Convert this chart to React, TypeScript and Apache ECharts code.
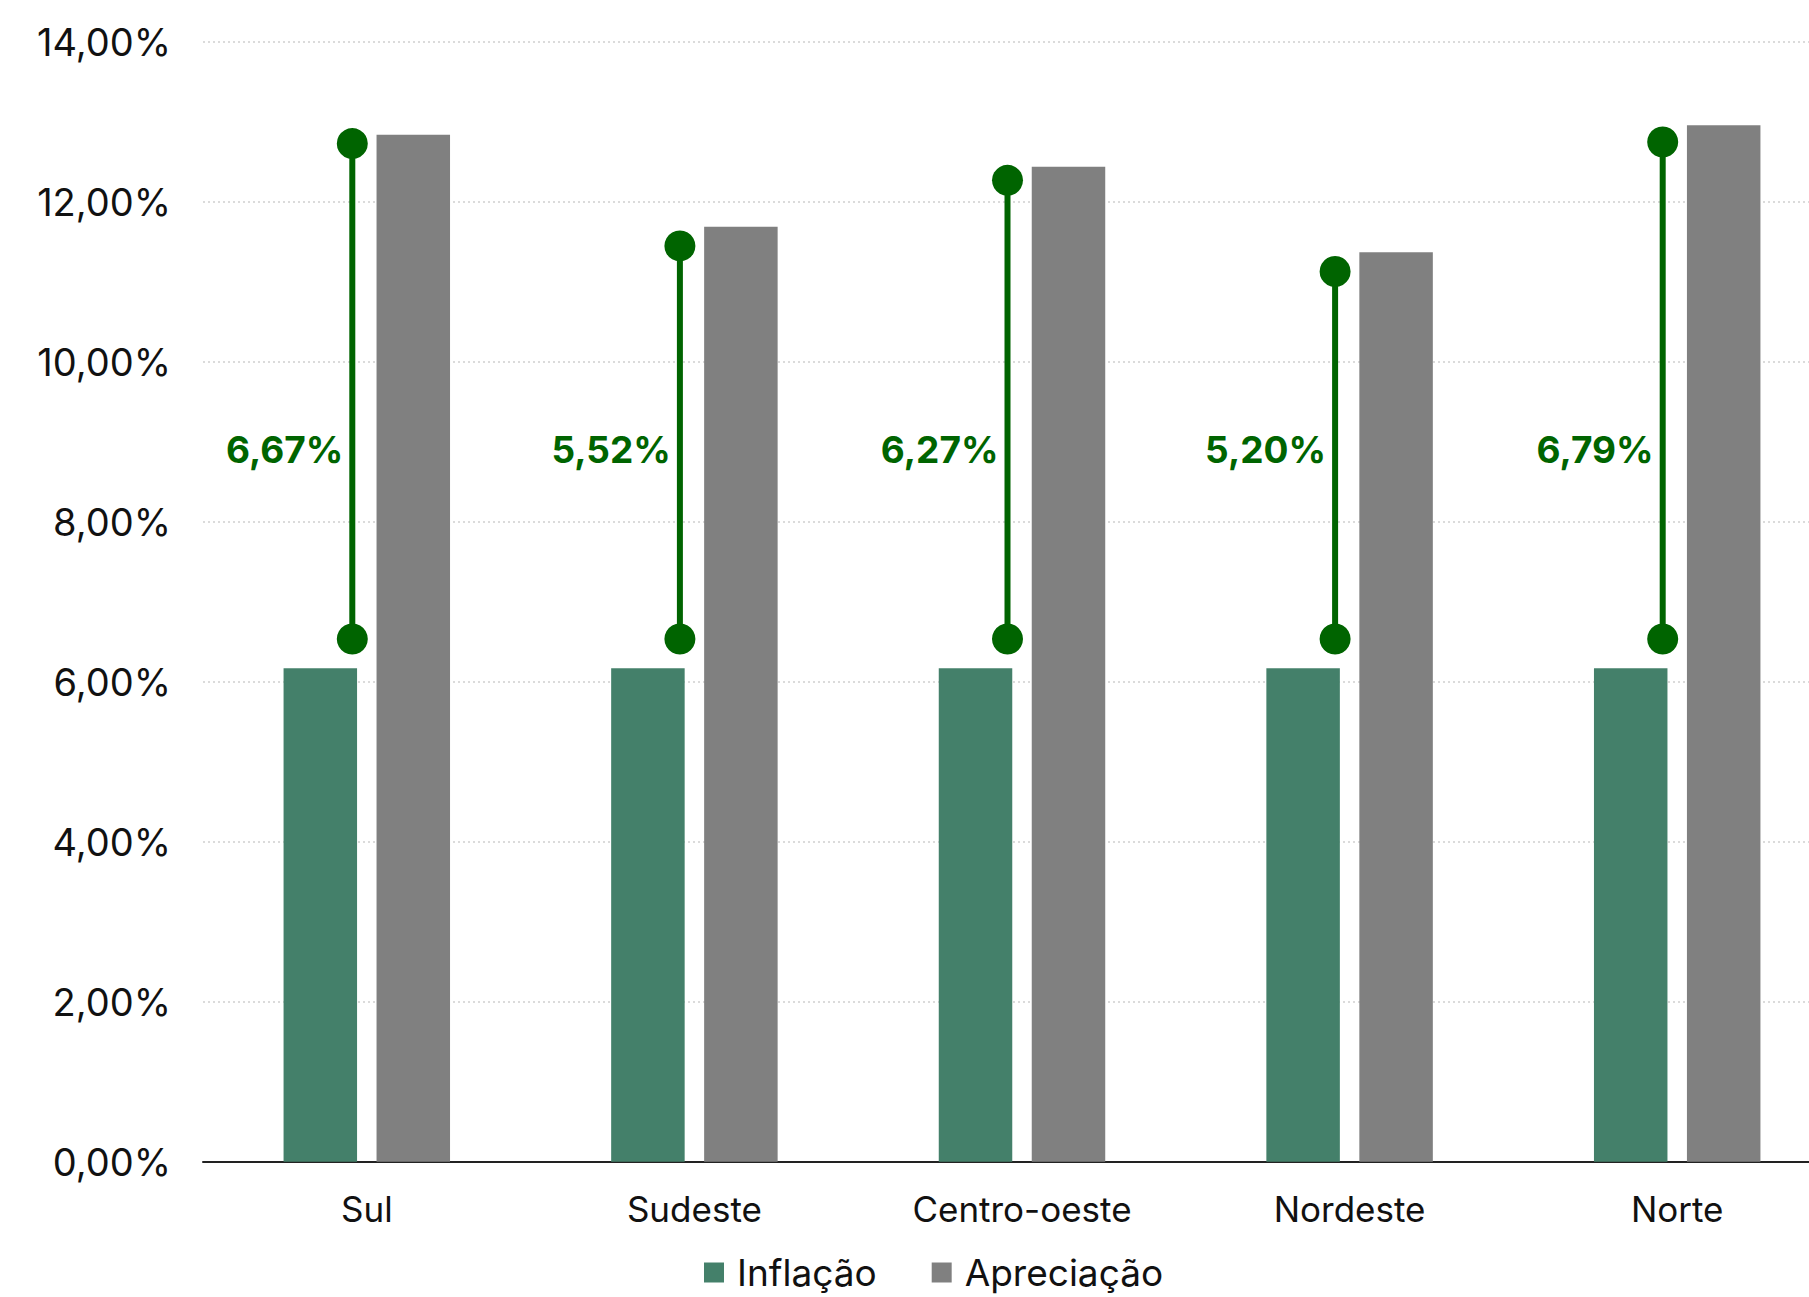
import React, { useEffect, useRef } from "react";
import * as echarts from "echarts";

const categories = ["Sul", "Sudeste", "Centro-oeste", "Nordeste", "Norte"];
const inflacao = [6.17, 6.17, 6.17, 6.17, 6.17];
const apreciacao = [12.84, 11.69, 12.44, 11.37, 12.96];
const diferenca = [6.67, 5.52, 6.27, 5.2, 6.79];
const dumbbellLow = [6.535, 6.535, 6.535, 6.535, 6.535];
const dumbbellHigh = [12.73, 11.45, 12.27, 11.13, 12.75];
const yTicks = [0, 2, 4, 6, 8, 10, 12, 14];

const fmt = (v: number) => v.toFixed(2).replace(".", ",") + "%";

export default function App() {
  const ref = useRef<HTMLDivElement>(null);
  useEffect(() => {
    if (!ref.current) return;
    const chart = echarts.init(ref.current, null, { renderer: "svg" });
    const GREEN = "#006400";
    const option: any = {
      animation: false,
      backgroundColor: "#ffffff",
      grid: { left: 203, right: 0, top: 42, bottom: 135.3, containLabel: false },
      legend: {
        data: ["Inflação", "Apreciação"],
        left: 699,
        top: 1249,
        padding: 5,
        icon: "rect",
        itemWidth: 20,
        itemHeight: 20,
        itemGap: 55,
        textStyle: {
          fontFamily: "Inter",
          fontSize: 37,
          lineHeight: 36,
          color: "#111",
          padding: [0, 0, 0, 8],
        },
      },
      xAxis: {
        type: "category",
        data: categories,
        axisTick: { show: false },
        axisLine: { show: true, lineStyle: { color: "#222", width: 2 } },
        axisLabel: {
          fontFamily: "Inter",
          fontSize: 35,
          lineHeight: 35,
          color: "#111",
          margin: 30,
        },
      },
      yAxis: {
        type: "value",
        min: yTicks[0],
        max: yTicks[yTicks.length - 1],
        interval: 2,
        axisLine: { show: false },
        axisTick: { show: false },
        axisLabel: {
          fontFamily: "Inter",
          fontSize: 38,
          color: "#111",
          margin: 32,
          formatter: (v: number) => fmt(v),
        },
        splitLine: { show: true, lineStyle: { color: "#cfcfcf", width: 1.5, type: [2, 3] } },
      },
      series: [
        {
          name: "Inflação",
          type: "bar",
          data: inflacao,
          barWidth: 73.5,
          barGap: "26.5%",
          itemStyle: { color: "#44806A" },
        },
        {
          name: "Apreciação",
          type: "bar",
          data: apreciacao,
          barWidth: 73.5,
          barGap: "26.5%",
          itemStyle: { color: "#808080" },
        },
        {
          name: "Diferença",
          type: "custom",
          z: 5,
          encode: { x: 0, y: [1, 2] },
          data: categories.map((c, i) => [i, dumbbellLow[i], dumbbellHigh[i], diferenca[i]]),
          renderItem: (params: any, api: any) => {
            const i = api.value(0);
            const low = api.coord([i, api.value(1)]);
            const high = api.coord([i, api.value(2)]);
            const lab = api.coord([i, 8.9]);
            const x = low[0] - 14.5;
            return {
              type: "group",
              children: [
                {
                  type: "line",
                  shape: { x1: x, y1: low[1], x2: x, y2: high[1] },
                  style: { stroke: GREEN, lineWidth: 6 },
                },
                { type: "circle", shape: { cx: x, cy: low[1], r: 15.5 }, style: { fill: GREEN } },
                { type: "circle", shape: { cx: x, cy: high[1], r: 15.5 }, style: { fill: GREEN } },
                {
                  type: "text",
                  x: x - 9,
                  y: lab[1],
                  style: {
                    text: fmt(api.value(3)),
                    align: "right",
                    verticalAlign: "middle",
                    fill: GREEN,
                    font: "bold 37px Inter",
                  },
                },
              ],
            };
          },
        },
      ],
    };
    chart.setOption(option);
    return () => chart.dispose();
  }, []);
  return (
    <div
      ref={ref}
      style={{ position: "fixed", left: 0, top: 0, width: 1841, height: 1297, background: "#fff" }}
    />
  );
}
